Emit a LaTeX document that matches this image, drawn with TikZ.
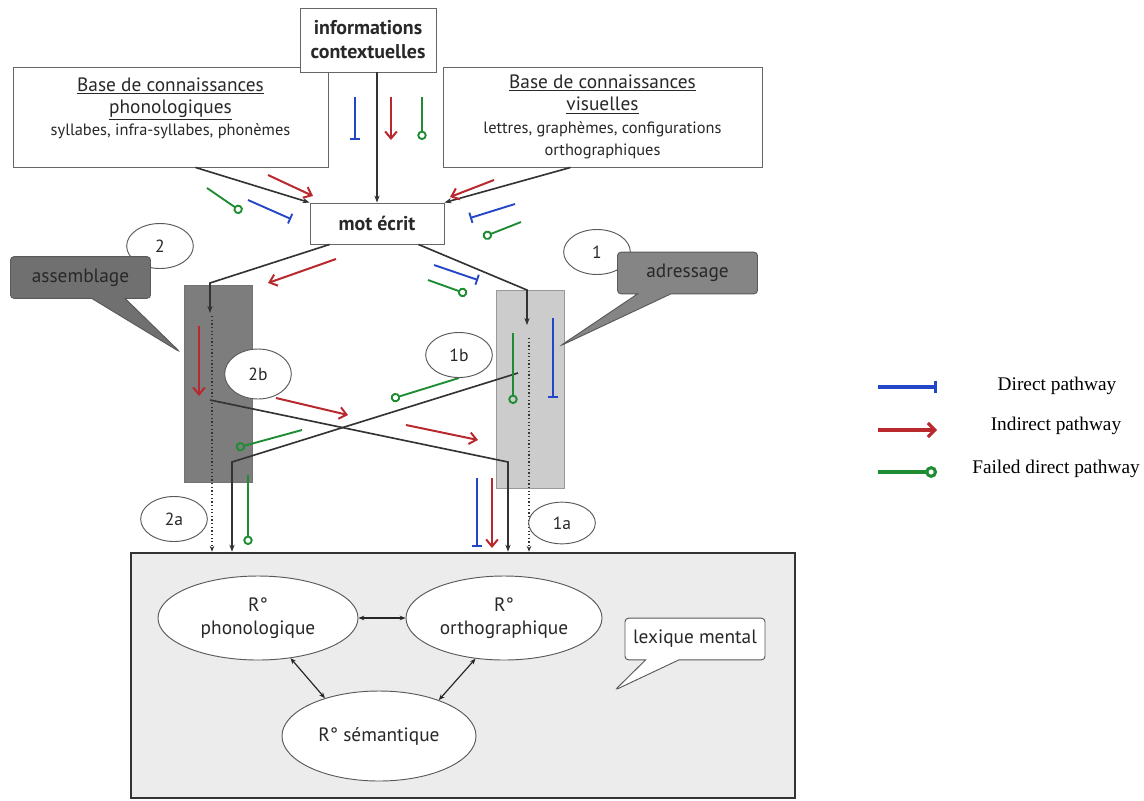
\documentclass[tikz,border=0pt]{standalone}
\usepackage{fontspec}
\setmainfont{PT Sans}
\newfontfamily\legendfont{Liberation Serif}
\usepackage{tikz}
\definecolor{directblue}{RGB}{35, 70, 200}
\definecolor{indirectred}{RGB}{185, 40, 45}
\definecolor{failedgreen}{RGB}{30, 140, 50}
\definecolor{boxgray}{RGB}{112, 112, 112}
\definecolor{darkrect}{RGB}{125, 125, 125}
\definecolor{lightrect}{RGB}{204, 204, 204}
\definecolor{lexfill}{RGB}{236, 236, 236}
\definecolor{inktext}{RGB}{40, 40, 40}
\usetikzlibrary{arrows.meta, shapes.geometric, shapes.callouts, positioning, calc}

\begin{document}
\begin{tikzpicture}[
    x=0.03cm, y=-0.03cm,
    font=\fontsize{16.5}{20}\selectfont,
    every node/.append style={text=inktext},
    infobox/.style={rectangle, draw=gray!80!black, fill=white, line width=0.8pt, align=center},
    numcircle/.style={ellipse, draw=gray!70!black, fill=white, line width=0.8pt, minimum width=2cm, minimum height=1.35cm, inner sep=0pt, font=\fontsize{15}{17}\selectfont},
    rep/.style={ellipse, draw=gray!70!black, fill=white, line width=0.8pt, align=center},
    bubble/.style={rectangle callout, rounded corners=3pt, draw=gray!70!black, line width=0.8pt, minimum width=4.2cm, minimum height=1.25cm, callout pointer width=1cm},
    conn/.style={-{Stealth[length=6pt, width=4.5pt]}, line width=1.4pt, black!80},
    dotconn/.style={-{Stealth[length=5pt, width=4pt]}, dotted, line width=1.1pt, black!80},
    directp/.style={-{Bar[width=9pt]}, line width=1.6pt, directblue},
    indirectp/.style={-{Straight Barb[length=6pt, width=10pt]}, line width=1.7pt, indirectred},
    failedp/.style={-{Circle[open, length=8pt, width=8pt]}, line width=1.6pt, failedgreen},
    twoway/.style={{Stealth[length=5pt, width=4pt]}-{Stealth[length=5pt, width=4pt]}, line width=1pt, black!85},
    legend/.style={font=\legendfont\fontsize{16.5}{20}\selectfont, text=black}
]
    \useasboundingbox (0,0) rectangle (1144,800);

    % Knowledge bases and context
    \node[infobox, minimum width=9.45cm, minimum height=3cm, font=\fontsize{16.5}{19}\selectfont] (phon) at (170.5,117) {\underline{Base de connaissances}\\\underline{phonologiques}\\{\fontsize{14}{16}\selectfont syllabes, infra-syllabes, phonèmes}\rule[-18pt]{0pt}{18pt}};
    \node[infobox, minimum width=9.57cm, minimum height=3cm, font=\fontsize{16.5}{19}\selectfont] (vis) at (602.5,117) {\underline{Base de connaissances}\\\underline{visuelles}\\{\fontsize{14}{16}\selectfont lettres, graphèmes, configurations}\\{\fontsize{14}{16}\selectfont orthographiques}};
    \node[infobox, minimum width=4.08cm, minimum height=1.92cm, font=\fontsize{17}{20.5}\selectfont\bfseries] (info) at (368,40) {informations\\contextuelles};
    \node[infobox, minimum width=4.02cm, minimum height=1.23cm, font=\fontsize{17}{20}\selectfont\bfseries] (mot) at (377,223.5) {mot écrit};

    % Routes
    \node[draw=black!55, fill=darkrect, minimum width=2.04cm, minimum height=5.91cm] (assRect) at (218,383.5) {};
    \node[draw=black!40, fill=lightrect, minimum width=2.04cm, minimum height=5.94cm] (adrRect) at (530,389) {};

    % Mental lexicon
    \node[draw=black!80, line width=2.2pt, fill=lexfill, minimum width=19.92cm, minimum height=7.35cm] (lex) at (463,675.5) {};
    \node[rep, minimum width=6cm, minimum height=2.52cm] (phonR) at (258,618) {R°\\phonologique};
    \node[rep, minimum width=5.88cm, minimum height=2.52cm] (orthR) at (504,618) {R°\\orthographique};
    \node[rep, minimum width=5.82cm, minimum height=2.7cm] (semR) at (379,736) {R° sémantique};
    \draw[twoway] (phonR.east) -- (orthR.west);
    \draw[twoway] (phonR.-51) -- (semR.145);
    \draw[twoway] (orthR.-125) -- (semR.31);

    % Black connectors
    \draw[conn] (mot.north |- info.south) -- (mot.north);
    \draw[conn] ($(phon.south)+(25,0)$) -- (mot.north west);
    \draw[conn] ($(vis.south)+(-32,0)$) -- (mot.north east);
    \coordinate (bendL) at (210,283);
    \coordinate (bendR) at (527,290);
    \draw[conn] ($(mot.south west)+(20,0)$) -- (bendL) -- ++(0,30);
    \draw[conn] ($(mot.south east)+(-26,0)$) -- (bendR) -- ++(0,35);
    \coordinate (crossA) at (210,400);
    \coordinate (crossAend) at (508,462);
    \coordinate (crossB) at (518,373);
    \coordinate (crossBend) at (232,462);
    \draw[conn] (crossA) -- (crossAend) -- (crossAend |- lex.north);
    \draw[conn] (crossB) -- (crossBend) -- (crossBend |- lex.north);
    \coordinate (dotL) at (212,316);
    \coordinate (dotR) at (529,338);
    \draw[dotconn] (dotL) -- (dotL |- lex.north);
    \draw[dotconn] (dotR) -- (dotR |- lex.north);

    % Pathway marks
    \draw[directp] (355,97) -- (355,140);
    \draw[indirectp] (391,97) -- (391,140);
    \draw[failedp] (422,97) -- (422,140);
    \draw[indirectp] (268,175) -- (313,196);
    \draw[failedp] (207,188) -- (242,212);
    \draw[directp] (248,200) -- (291,219);
    \draw[indirectp] (494,180) -- (450,197);
    \draw[directp] (515,204) -- (470,218);
    \draw[failedp] (521,222) -- (483,237);
    \draw[indirectp] (336,259) -- (268,283);
    \draw[directp] (434,265) -- (478,280);
    \draw[failedp] (428,280) -- (467,294);
    \draw[indirectp] (199,326) -- (199,396);
    \draw[failedp] (513,333) -- (513,404);
    \draw[directp] (553,318) -- (553,398);
    \draw[indirectp] (276,398) -- (348,415);
    \draw[indirectp] (406,425) -- (478,440);
    \draw[failedp] (459,378) -- (391,399);
    \draw[failedp] (302,430) -- (236,448);
    \draw[failedp] (248,475) -- (248,545);
    \draw[directp] (477,478) -- (477,547);
    \draw[indirectp] (492,478) -- (492,548);

    % Numbered steps
    \node[numcircle] (c2) at (160,246) {2};
    \node[numcircle] (c1) at (597,252) {1};
    \node[numcircle, minimum height=1.5cm] (c2b) at (258,374) {2b};
    \node[numcircle] (c1b) at (459,355) {1b};
    \node[numcircle] (c2a) at (174,519) {2a};
    \node[numcircle, minimum height=1.25cm] (c1a) at (562,523) {1a};

    % Callouts
    \node[bubble, fill=boxgray, callout absolute pointer={(180,352)}] (assemblage) at (80.5,277.5) {assemblage};
    \node[bubble, fill=boxgray!85, callout absolute pointer={(560,346)}] (adressage) at (687.5,273) {adressage};
    \node[bubble, fill=white, callout absolute pointer={(615,690)}] (lexmental) at (695,639) {lexique mental};

    % Legend
    \coordinate (legA) at (878,387);
    \coordinate (legB) at (878,430);
    \coordinate (legC) at (878,472);
    \draw[directp, line width=2.6pt, -{Bar[width=11pt]}] (legA) -- ++(59,0);
    \draw[indirectp, line width=2.6pt, -{Straight Barb[length=6pt, width=12pt]}] (legB) -- ++(59,0);
    \draw[failedp, line width=2.6pt, -{Circle[open, length=10pt, width=10pt]}] (legC) -- ++(59,0);
    \node[legend] (legDirect) at (1057,386) {Direct pathway};
    \node[legend] (legIndirect) at (1056,426) {Indirect pathway};
    \node[legend] (legFailed) at (1056,469) {Failed direct pathway};
\end{tikzpicture}
\end{document}
